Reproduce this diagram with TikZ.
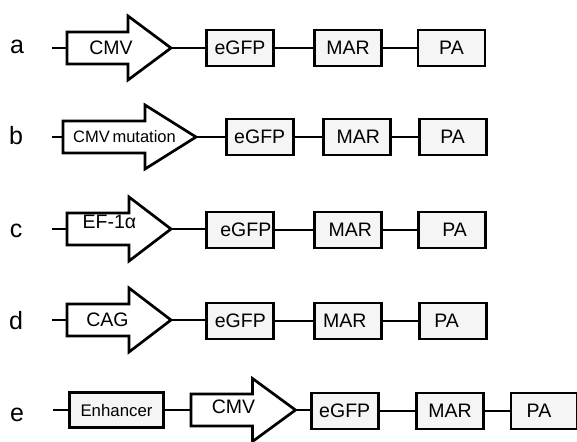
\documentclass[tikz,border=0pt]{standalone}
\usepackage{fontspec}
\setmainfont{Liberation Sans}
\tikzset{
    element/.style = {
        draw,
        line width=2.8pt,
        fill=black!4,
        minimum width=67pt,
        minimum height=36pt,
        inner sep=0pt,
        font=\fontsize{19.5}{20}\selectfont
    },
    promoter/.style = {
        draw,
        line width=2.7pt,
        fill=white
    },
    promtext/.style = {
        inner sep=0pt,
        font=\fontsize{19.5}{20}\selectfont
    },
    link/.style = {
        line width=2.3pt
    },
    rowlabel/.style = {
        anchor=base,
        inner sep=0pt,
        font=\fontsize{25}{25}\selectfont
    }
}

\begin{document}
\begin{tikzpicture}[x=1pt, y=-1pt]
    \useasboundingbox (0,0) rectangle (577,441);

    % Row a
    \node[rowlabel] (laba) at (17,54) {a};
    \coordinate (starta) at (52,48);
    \coordinate (taila) at (67,48);
    \coordinate (tipa) at (171,48);
    \draw[link] (starta) -- (taila);
    \draw[promoter] (67,32) -- (128,32) -- (128,16) -- (tipa) -- (128,80) -- (128,64) -- (67,64) -- cycle;
    \node[promtext] (cmva) at (111,48) {CMV};
    \node[element] (gfpa) at (240,48) {eGFP};
    \node[element] (mara) at (348,48) {MAR};
    \node[element] (paa) at (451.5,48) {PA};
    \draw[link] (tipa) -- (gfpa) (gfpa) -- (mara) (mara) -- (paa);

    % Row b
    \node[rowlabel] (labb) at (16,144) {b};
    \coordinate (startb) at (52,137);
    \coordinate (tailb) at (63,137);
    \coordinate (tipb) at (196,137);
    \draw[link] (startb) -- (tailb);
    \draw[promoter] (63,121) -- (145,121) -- (145,105) -- (tipb) -- (145,169) -- (145,153) -- (63,153) -- cycle;
    \node[promtext, font=\fontsize{16.5}{17}\selectfont] (cmvb) at (124.5,137) {CMV\,mutation};
    \node[element] (gfpb) at (259.7,137) {eGFP};
    \node[element] (marb) at (356.7,137) {\hspace*{3pt}MAR};
    \node[element] (pab) at (452.7,137) {PA};
    \draw[link] (tipb) -- (gfpb) (gfpb) -- (marb) (marb) -- (pab);

    % Row c
    \node[rowlabel] (labc) at (16,237) {c};
    \coordinate (startc) at (52,229);
    \coordinate (tailc) at (67,229);
    \coordinate (tipc) at (171,229);
    \draw[link] (startc) -- (tailc);
    \draw[promoter] (67,213) -- (129,213) -- (129,197) -- (tipc) -- (129,261) -- (129,245) -- (67,245) -- cycle;
    \node[promtext] (efc) at (109.5,222) {EF-1α};
    \node[element] (gfpc) at (240.3,230) {\hspace*{11pt}eGFP};
    \node[element] (marc) at (348.3,230) {\hspace*{4pt}MAR};
    \node[element] (pac) at (452.2,230) {\hspace*{5pt}PA};
    \draw[link] (tipc) -- (tipc -| gfpc.west) (gfpc) -- (marc) (marc) -- (pac);

    % Row d
    \node[rowlabel] (labd) at (16,329) {d};
    \coordinate (startd) at (52,320);
    \coordinate (taild) at (67,320);
    \coordinate (tipd) at (171,320);
    \draw[link] (startd) -- (taild);
    \draw[promoter] (67,304) -- (129,304) -- (129,288) -- (tipd) -- (129,352) -- (129,336) -- (67,336) -- cycle;
    \node[promtext] (cagd) at (107.5,320) {CAG};
    \node[element] (gfpd) at (240.3,321) {eGFP};
    \node[element] (mard) at (348.3,321) {MAR\hspace*{7pt}};
    \node[element] (pad) at (452.7,321) {PA\hspace*{12pt}};
    \draw[link] (tipd) -- (tipd -| gfpd.west) (gfpd) -- (mard) (mard) -- (pad);

    % Row e
    \node[rowlabel] (labe) at (17,421) {e};
    \coordinate (starte) at (53,410);
    \node[element, minimum width=94pt, minimum height=35pt, font=\fontsize{16.8}{17}\selectfont] (enhe) at (116.5,410) {Enhancer};
    \coordinate (taile) at (191,410);
    \coordinate (tipe) at (295.5,410);
    \draw[link] (starte) -- (enhe) (enhe) -- (taile);
    \draw[promoter] (191,394) -- (252.5,394) -- (252.5,378.5) -- (tipe) -- (252.5,441.5) -- (252.5,426) -- (191,426) -- cycle;
    \node[promtext] (cmve) at (233.5,407) {CMV};
    \node[element] (gfpe) at (344.7,411) {eGFP};
    \node[element] (mare) at (450,411) {MAR};
    \node[element, minimum width=66pt] (pae) at (544,411) {PA\hspace*{10pt}};
    \draw[link] (tipe) -- (tipe -| gfpe.west) (gfpe) -- (mare) (mare) -- (pae);
\end{tikzpicture}
\end{document}
